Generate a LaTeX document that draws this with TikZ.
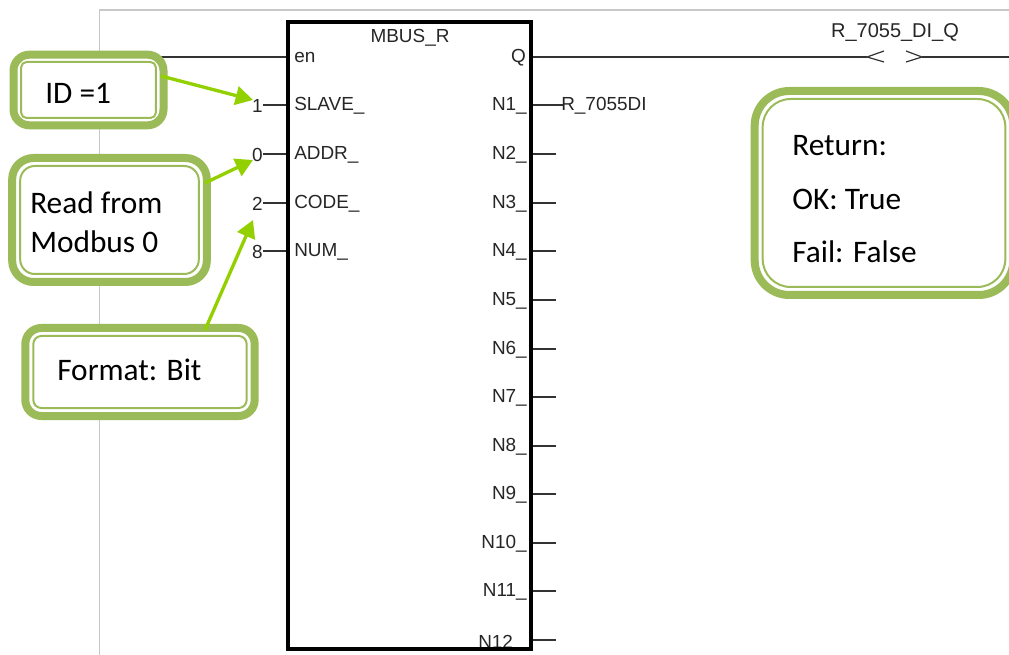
\documentclass[tikz,border=0pt]{standalone}
\usepackage{fontspec}
\setmainfont{Carlito}
\newfontfamily\plcfont{Liberation Sans}
\usetikzlibrary{arrows.meta}
\definecolor{boxgreen}{HTML}{9BBB59}
\definecolor{arrowgreen}{HTML}{92D000}
\definecolor{framegray}{HTML}{C8C8C8}
\definecolor{wire}{HTML}{333333}
\tikzset{
  x=0.75pt,y=-0.75pt,
  outerbox/.style={draw=boxgreen,fill=white,line width=6pt,rounded corners=#1,inner sep=0pt,outer sep=0pt},
  outerbox/.default=12pt,
  innerbox/.style={draw=boxgreen,line width=1.5pt,rounded corners=#1,inner sep=0pt,outer sep=0pt},
  innerbox/.default=8pt,
  calltext/.style={font=\fontsize{23.5pt}{29pt}\selectfont,text=black,inner sep=0pt,anchor=west,align=left},
  plc/.style={font=\plcfont\fontsize{14.2pt}{16pt}\selectfont,text=black!85,inner sep=0pt},
  wireline/.style={draw=wire,line width=1.1pt},
  frameline/.style={draw=framegray,line width=1.2pt},
  callarrow/.style={draw=arrowgreen,line width=2.5pt,-{Triangle[length=13pt,width=14pt]}},
}
\begin{document}
\begin{tikzpicture}
\useasboundingbox (0,0) rectangle (1009,655);
\clip (0,0) rectangle (1009,655);
\fill[white] (0,0) rectangle (1009,655);
% frame
\coordinate (fa) at (99.5,655);
\coordinate (fb) at (99.5,10);
\coordinate (fc) at (1009,10);
\draw[frameline] (fa) -- (fb) -- (fc);
% block
\coordinate (enw) at (160,57);
\coordinate (en) at (288,57);
\coordinate (qq) at (531,57);
\coordinate (cl) at (867,57);
\coordinate (cr) at (922,57);
\coordinate (ce) at (1009,57);
\draw[wireline] (enw) -- (en);
\draw[wireline] (qq) -- (cl);
\draw[wireline] (cr) -- (ce);
% contact
\coordinate (cl1) at (884,51);
\coordinate (cl2) at (884,62);
\coordinate (cr1) at (906,51);
\coordinate (cr2) at (906,62);
\draw[draw=wire,line width=0.9pt] (cl1) -- (cl) -- (cl2);
\draw[draw=wire,line width=0.9pt] (cr1) -- (cr) -- (cr2);
% left pins
\foreach \nm/\y/\v/\t in {a/105/1/SLAVE\_,b/154/0/ADDR\_,c/203/2/CODE\_,d/251/8/NUM\_}{
  \coordinate (l\nm) at (263,\y);
  \coordinate (p\nm) at (288,\y);
  \draw[wireline] (l\nm) -- (p\nm);
  \node[plc,anchor=east] (v\nm) at (263,\y+1) {\v};
  \node[plc,anchor=west] (t\nm) at (294,\y+1) {\t};
}
% right pins
\foreach \nm/\y/\t in {1/105/N1\_,2/154/N2\_,3/203/N3\_,4/251/N4\_,5/300/N5\_,6/349/N6\_,7/397/N7\_,8/446/N8\_,9/494/N9\_,10/543/N10\_,11/591/N11\_}{
  \coordinate (r\nm) at (531,\y);
  \coordinate (s\nm) at (556,\y);
  \draw[wireline] (r\nm) -- (s\nm);
  \node[plc,anchor=east] (n\nm) at (527,\y+1) {\t};
}
\coordinate (r12) at (531,640);
\coordinate (s12) at (556,640);
\draw[wireline] (r12) -- (s12);
\node[plc,anchor=west] (n12) at (478,642) {N12};
\coordinate (r1x) at (563,105);
\draw[wireline] (r1) -- (r1x);
\node[plc,anchor=west] (r7055) at (561,106) {R\_7055DI};
\node[plc] (title) at (410,38) {MBUS\_R};
\node[plc,anchor=west] (ten) at (294,58) {en};
\node[plc,anchor=east] (tq) at (526,58) {Q};
\node[plc,font=\plcfont\fontsize{15pt}{17pt}\selectfont] (tq7055) at (895,33) {R\_7055\_DI\_Q};
\coordinate (b1) at (288,22);
\coordinate (b2) at (531,22);
\coordinate (b3) at (531,649);
\coordinate (b4) at (288,649);
\draw[black,line width=2.4pt,line join=miter] (b1) -- (b2) -- (b3) -- (b4) -- cycle;
% callouts
\node[outerbox,minimum width=112.5pt,minimum height=53pt] (c1) at (88.5,90) {};
\node[innerbox=4pt,minimum width=101pt,minimum height=42pt] (c1i) at (88.5,90) {};
\node[calltext] (c1t) at (45,93) {ID =1};
\node[outerbox=16pt,minimum width=146pt,minimum height=93pt] (c2) at (109.5,220) {};
\node[innerbox=11pt,minimum width=134pt,minimum height=81pt] (c2i) at (109.5,220) {};
\node[calltext] (c2t) at (30,222) {Read from\\Modbus 0};
\node[outerbox,minimum width=172pt,minimum height=66pt] (c3) at (140,372) {};
\node[innerbox=6pt,minimum width=160pt,minimum height=54pt] (c3i) at (140,372) {};
\node[calltext] (c3t) at (57,370) {Format: Bit};
\node[outerbox=26pt,minimum width=194pt,minimum height=153pt] (c4) at (884,193) {};
\node[innerbox=21pt,minimum width=182pt,minimum height=141pt] (c4i) at (884,193) {};
\node[calltext] (c4a) at (792,146) {Return:};
\node[calltext] (c4b) at (792,199) {OK: True};
\node[calltext] (c4c) at (792,252) {Fail: False};
% arrows
\coordinate (a1s) at (161,76);
\coordinate (a1e) at (253,100);
\coordinate (a2s) at (205,183);
\coordinate (a2e) at (253,160);
\coordinate (a3s) at (205,330);
\coordinate (a3e) at (253,220);
\draw[callarrow] (a1s) -- (a1e);
\draw[callarrow] (a2s) -- (a2e);
\draw[callarrow] (a3s) -- (a3e);
\end{tikzpicture}
\end{document}
